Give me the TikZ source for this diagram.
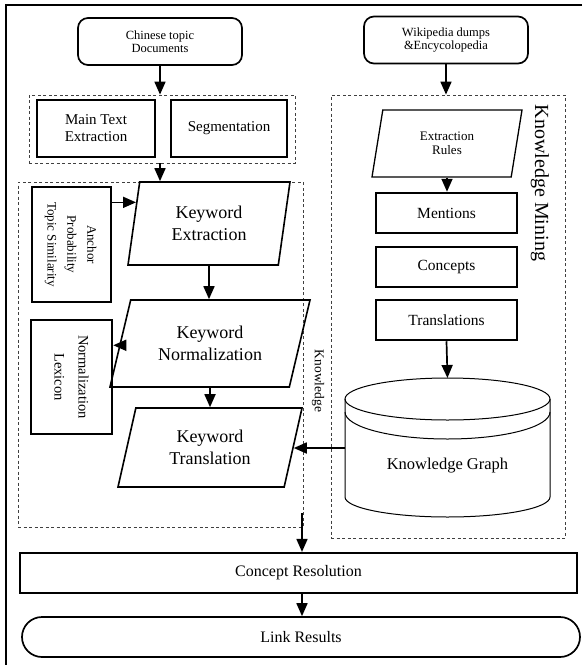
\documentclass[tikz,border=0pt]{standalone}
\usepackage{fontspec}
\setmainfont{Liberation Serif}
\usepackage{graphicx}
\usetikzlibrary{shapes.geometric,arrows.meta,calc}

\newcommand{\vlabel}[1]{\rotatebox{-90}{\begin{tabular}{@{}c@{}}#1\end{tabular}}}

\begin{document}
\begin{tikzpicture}[x=1pt, y=-1pt,
    box/.style={rectangle, draw, line width=2.5pt, align=center, inner sep=2pt, font=\fontsize{15.5}{17}\selectfont},
    para/.style={trapezium, draw, line width=1.6pt, align=center, inner sep=2pt, trapezium stretches body, font=\fontsize{18}{21.6}\selectfont},
    terminal/.style={rectangle, draw, rounded corners=10pt, line width=1.7pt, align=center, font=\fontsize{12.5}{13.5}\selectfont},
    group/.style={rectangle, draw=black!75, dash pattern=on 3pt off 2.5pt, line width=0.8pt},
    flow/.style={-{Triangle[length=13pt,width=11pt]}, line width=1.7pt},
]
    \useasboundingbox (0,0) rectangle (586,665);

    % Outer frame
    \draw[line width=2.5pt] (582,5) -- (6,5) -- (6,665);

    % Dashed groups
    \node[group, minimum width=266, minimum height=68] (prep) at (162,129) {};
    \node[group, minimum width=285, minimum height=345] (kwbox) at (160.5,354.5) {};
    \node[group, minimum width=234, minimum height=443] (kmbox) at (448,316.5) {};
    \node[rotate=-90, font=\fontsize{20}{24}\selectfont] (kmlabel) at (540,183) {Knowledge Mining};
    \node[rotate=-90, font=\fontsize{13.5}{16}\selectfont] (kwlabel) at (318,381) {Knowledge};

    % Sources
    \node[terminal, minimum width=164, minimum height=47] (chinese) at (160,41.5) {Chinese topic\\Documents};
    \node[terminal, minimum width=164, minimum height=47] (wiki) at (446,40) {Wikipedia dumps\\\&Encycolopedia};

    % Preprocessing
    \node[box, minimum width=118, minimum height=57, font=\fontsize{15}{17}\selectfont] (maintext) at (96,128.5) {Main Text\\Extraction};
    \node[box, minimum width=116, minimum height=57, font=\fontsize{15}{17}\selectfont] (segm) at (229,128.5) {Segmentation};

    % Keyword pipeline
    \node[para, trapezium left angle=73, trapezium right angle=107, minimum width=162, minimum height=83] (kwext) at (209,223.5) {Keyword\\Extraction};
    \node[para, trapezium left angle=61.6, trapezium right angle=118.4, minimum width=200, minimum height=87] (kwnorm) at (210,343.5) {Keyword\\Normalization};
    \node[para, trapezium left angle=65, trapezium right angle=115, minimum width=184, minimum height=79] (kwtrans) at (210,447.5) {Keyword\\Translation};

    \node[box, minimum width=79, minimum height=115, font=\fontsize{13}{20}\selectfont] (anchor) at (71.5,244.5) {\vlabel{Anchor\\Probability\\Topic Similarity}};
    \node[box, minimum width=81, minimum height=114, font=\fontsize{14.5}{24}\selectfont] (lexicon) at (71.5,377) {\vlabel{Normalization\\Lexicon}};

    % Knowledge mining
    \node[para, line width=1.3pt, trapezium left angle=68, trapezium right angle=112, minimum width=150, minimum height=67, font=\fontsize{13}{14}\selectfont] (rules) at (447,143.5) {Extraction\\Rules};
    \node[box, minimum width=141, minimum height=40] (mentions) at (446.5,213) {Mentions};
    \node[box, minimum width=141, minimum height=40] (concepts) at (446.5,267) {Concepts};
    \node[box, minimum width=141, minimum height=40] (trans) at (446.5,320) {Translations};

    % Knowledge graph cylinder
    \draw[line width=1pt, fill=white] (345,399) -- (345,497) arc[start angle=180, end angle=360, x radius=102.5pt, y radius=20pt] -- (550,399);
    \draw[line width=1pt] (447.5,399) ellipse[x radius=102.5pt, y radius=21pt];
    \draw[line width=1pt] (345,412) arc[start angle=180, end angle=360, x radius=102.5pt, y radius=27pt];
    \node[font=\fontsize{16.5}{19}\selectfont] (kb) at (447.5,466) {Knowledge Graph};
    \coordinate (kbtop) at (447.5,378);
    \coordinate (kbside) at (345,448);

    % Output
    \node[box, line width=2.2pt, minimum width=557, minimum height=40, font=\fontsize{16}{19}\selectfont] (resol) at (298.5,573) {Concept Resolution};
    \node[terminal, rounded corners=20pt, minimum width=558, minimum height=40, font=\fontsize{16}{19}\selectfont] (link) at (301,637) {Link Results};
    \coordinate (merge) at (302,513);

    % Connectors
    \draw[flow] (chinese.south) -- (chinese.south |- prep.north);
    \draw[flow] (chinese.south |- prep.south) -- (chinese.south |- kwext.north);
    \coordinate (kwin) at ($(kwext.top left corner)!0.25!(kwext.bottom left corner)$);
    \draw[flow] (anchor.east |- kwin) -- (kwin);
    \draw[flow] (kwext.south) -- (kwext.south |- kwnorm.north);
    \coordinate (kwout) at ($(kwnorm.top left corner)!0.52!(kwnorm.bottom left corner)$);
    \draw[flow] (kwout) -- (lexicon.east |- kwout);
    \draw[flow] (kwnorm.south) -- (kwnorm.south |- kwtrans.north);
    \coordinate (kwin2) at ($(kwtrans.top right corner)!0.506!(kwtrans.bottom right corner)$);
    \draw[flow] (kbside) -- (kbside -| kwin2);

    \draw[flow] (wiki.south) -- (wiki.south |- kmbox.north);
    \draw[flow] (rules.south) -- (rules.south |- mentions.north);
    \draw[flow] (trans.south) -- (kbtop);

    \draw[flow] (merge) -- (merge |- resol.north);
    \draw[flow] (merge |- resol.south) -- (merge |- link.north);
\end{tikzpicture}
\end{document}
